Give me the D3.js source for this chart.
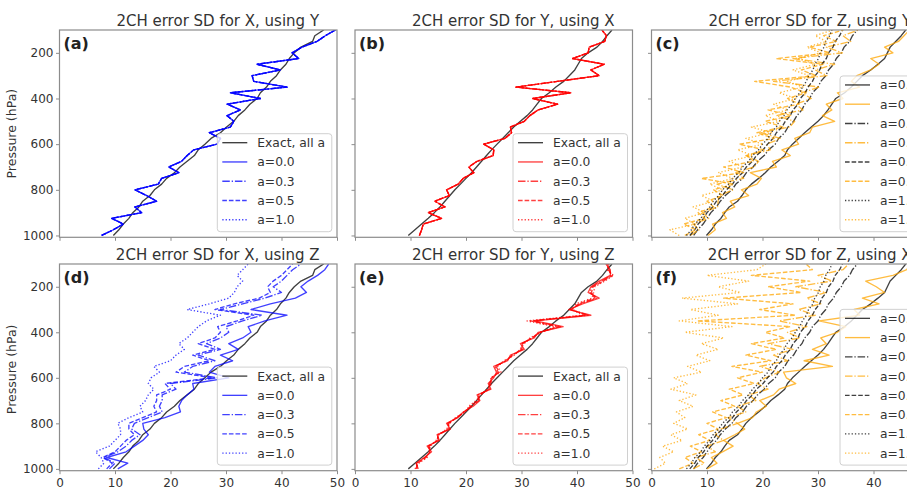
<!DOCTYPE html>
<html><head><meta charset="utf-8">
<script src="https://cdn.jsdelivr.net/npm/d3@7"></script>
<style>
body{margin:0;background:#fff;}
svg{display:block;font-family:"DejaVu Sans",sans-serif;}
</style></head><body>
<svg id="chart" width="907" height="493"></svg>
<script>
// ---------------- data ----------------
const pressure = [1000,975,950,925,900,875,850,825,800,775,750,725,700,675,650,625,600,575,550,525,500,475,450,425,400,375,350,325,300,275,250,225,200,175,150,125,100];
const yTickValues = [200,400,600,800,1000];
const xTickValues = [0,10,20,30,40,50];

// exact error SD (black)
const exactX = [9.7,10.7,11.5,12.5,13.2,14.3,15.0,16.3,17.1,18.4,19.3,20.7,21.7,23.0,24.3,25.0,26.2,27.3,29.0,30.1,31.4,32.2,33.4,34.3,35.6,36.2,37.3,38.0,39.1,39.8,40.8,41.4,42.3,43.5,45.6,46.0,47.6];
const exactY = [9.6,10.8,12.0,13.2,14.3,15.3,16.2,17.1,18.0,19.0,20.0,21.0,21.9,22.8,23.7,24.6,25.6,26.6,27.6,28.6,29.8,31.0,32.0,32.8,33.6,35.0,36.2,37.6,38.6,39.6,40.2,40.8,42.0,43.6,44.6,45.4,46.3];
const exactZ_a00 = [9.9,10.8,11.5,12.5,13.2,14.0,15.5,16.3,17.0,18.0,19.3,20.5,21.5,22.8,24.0,24.5,25.4,26.5,27.6,28.8,30.0,31.0,31.8,32.5,33.2,34.8,36.0,37.0,38.0,39.5,40.8,42.0,42.5,43.0,44.0,45.0,45.8];
const exactZ_a03 = [7.6,8.3,9.3,10.0,10.7,11.7,12.4,13.3,14.5,15.2,16.4,17.1,18.3,19.1,20.3,21.1,22.3,22.9,24.0,24.6,25.6,26.2,27.1,27.6,28.5,29.0,30.0,30.5,31.4,31.9,32.8,33.3,34.2,34.7,35.7,36.2,37.1];
const exactZ_a05 = [6.9,7.8,8.4,9.4,10.0,11.0,11.7,12.8,13.5,14.6,15.3,16.4,17.1,18.2,18.9,20.1,20.9,21.9,22.5,23.5,24.1,25.0,25.5,26.4,26.8,27.7,28.2,29.0,29.5,30.3,30.7,31.5,31.9,32.7,33.1,33.9,34.4];
const exactZ_a10 = [6.3,7.2,7.8,8.9,9.5,10.5,11.1,12.1,12.8,13.9,14.6,15.7,16.4,17.5,18.2,19.3,20.0,21.0,21.5,22.5,23.0,23.9,24.4,25.3,25.9,26.7,27.2,27.9,28.3,29.1,29.4,30.1,30.4,31.1,31.4,32.1,32.5];

// (a) X using Y (all a overlap)
const xUsingY = [7.6,9.7,11.5,9.4,14.8,13.6,17.5,15.7,13.6,17.8,18.4,21.5,19.7,22.0,23.0,24.2,28.4,29.0,27.0,30.8,31.4,30.2,32.6,30.2,36.2,30.8,41.0,35.0,34.7,39.8,35.6,43.1,41.9,43.7,46.4,47.9,49.7];
// (b) Y using X (all a overlap)
const yUsingX = [11.6,12.0,12.3,15.6,13.2,16.2,14.4,17.0,16.5,18.6,19.5,21.4,20.5,22.0,24.9,25.0,23.2,27.0,28.2,28.0,30.5,31.5,33.0,36.5,32.0,38.9,29.0,36.5,44.0,42.5,44.9,39.2,42.0,42.2,45.0,45.3,44.5];
// (d) X using Z
const xUsingZ_a00 = [10.5,12.3,8.5,12.0,13.5,15.0,16.0,15.2,15.0,19.0,21.8,21.5,22.0,23.0,24.2,24.0,30.5,27.0,28.0,31.2,29.0,32.2,30.5,33.0,34.5,34.0,37.0,41.0,34.5,38.0,42.5,44.5,43.5,44.8,46.5,47.8,48.5];
const xUsingZ_a03 = [9.0,10.0,8.0,10.5,12.0,13.0,14.5,13.0,13.5,16.0,18.5,18.0,18.5,18.5,21.0,20.0,28.5,22.5,24.0,28.0,25.0,29.0,26.5,29.0,30.5,30.0,33.0,36.5,29.0,33.0,37.0,40.0,38.5,40.0,41.0,42.0,43.5];
const xUsingZ_a05 = [8.5,9.5,7.8,10.0,11.0,12.0,13.5,12.5,12.5,15.0,17.5,17.0,17.5,17.5,20.0,19.0,27.5,21.0,22.5,27.0,24.0,28.0,25.0,28.0,29.0,28.5,32.0,35.0,28.0,31.5,36.0,38.0,37.5,38.5,40.0,41.0,42.0];
const xUsingZ_a10 = [7.0,8.0,7.5,6.5,9.0,10.0,11.0,11.0,10.5,12.5,15.0,14.5,15.5,16.0,17.0,16.0,16.5,18.0,17.0,20.0,21.0,22.5,21.5,23.0,24.0,25.0,26.5,29.0,23.0,27.0,30.5,31.5,32.0,33.0,32.0,33.0,34.0];
// (e) Y using Z
const yUsingZ_a00 = [11.4,11.0,12.5,13.8,13.0,15.2,14.8,17.2,16.5,18.5,19.5,21.3,22.5,22.0,24.5,24.0,25.0,25.5,25.0,27.5,28.0,30.5,29.8,32.3,33.0,37.5,32.5,42.5,38.5,41.0,44.0,42.0,42.5,44.0,46.0,46.0,45.2];
const yUsingZ_a03 = [11.2,11.1,12.6,13.6,13.2,15.0,14.9,17.0,16.7,18.4,19.6,21.0,22.3,22.2,24.3,24.2,24.8,25.8,25.2,27.3,28.3,30.2,30.0,32.0,33.2,37.0,32.0,42.0,38.8,40.6,43.6,42.3,42.7,44.4,46.2,45.8,45.4];
const yUsingZ_a05 = [11.0,11.3,12.8,13.5,13.4,14.8,15.0,16.8,16.9,18.3,19.7,20.8,22.1,22.4,24.1,24.4,24.6,26.0,25.4,27.1,28.5,30.0,30.2,31.8,33.4,36.6,31.6,41.6,39.0,40.3,43.2,42.6,42.9,44.7,46.4,45.6,45.6];
const yUsingZ_a10 = [10.8,11.5,13.0,13.3,13.6,14.6,15.2,16.5,17.1,18.1,19.9,20.5,21.8,22.7,23.8,24.7,24.4,26.3,25.7,26.8,28.8,29.7,30.5,31.5,33.6,36.0,31.0,41.0,39.3,39.8,42.7,43.0,43.2,45.0,46.6,45.4,45.8];
// (c) Z using Y
const zUsingY_a00 = [10.2,11.5,11.0,13.5,12.8,15.0,14.2,17.5,16.2,19.0,19.8,17.8,22.5,21.8,25.0,23.5,26.5,25.8,28.5,29.0,33.0,30.8,32.5,31.5,34.5,33.5,37.5,36.0,37.0,39.5,41.0,39.5,43.5,42.0,44.5,45.5,46.5];
const zUsingY_a03 = [7.0,8.6,7.5,10.3,9.2,11.9,12.0,12.2,14.7,11.8,16.6,15.2,18.5,19.3,17.0,21.4,20.8,23.2,19.8,24.9,25.8,22.5,27.3,26.0,28.8,27.0,30.3,22.0,31.6,29.5,33.0,25.5,34.4,31.5,35.9,34.5,37.3];
const zUsingY_a05 = [6.0,8.0,5.8,9.6,8.4,11.2,10.0,12.9,11.2,14.8,9.0,16.6,13.0,18.4,17.2,20.3,15.8,22.1,19.0,23.7,20.5,25.2,21.0,26.6,24.5,27.9,25.0,18.6,29.7,27.0,30.9,22.5,32.1,28.5,33.3,31.0,34.6];
const zUsingY_a10 = [5.0,3.3,7.9,6.0,9.6,7.5,11.2,9.0,12.9,10.5,14.7,12.0,16.5,14.0,18.3,15.5,20.1,17.0,21.6,18.0,23.1,20.5,24.5,22.0,26.0,23.0,27.3,24.5,28.4,25.5,29.5,26.5,30.5,28.0,31.5,29.5,32.6];
// (f) Z using X
const zUsingX_a00 = [10.0,11.8,10.8,12.8,14.7,13.0,15.0,16.8,15.5,18.2,18.9,20.7,19.5,22.0,23.0,26.0,24.3,23.8,32.6,27.5,32.0,29.0,31.5,30.5,33.5,35.0,30.2,37.5,36.5,41.0,38.0,42.0,40.5,38.6,43.5,46.0,46.5];
const zUsingX_a03 = [7.5,9.5,8.0,11.5,10.0,13.0,11.5,12.5,15.5,13.8,17.0,15.5,18.8,17.5,21.0,19.0,20.5,23.0,19.5,24.5,22.0,25.5,21.0,26.8,24.5,28.0,23.0,29.5,26.5,30.5,28.0,31.5,26.0,32.5,30.0,34.5,35.5];
const zUsingX_a05 = [5.0,7.5,6.0,9.0,7.0,10.5,8.5,12.0,10.0,13.5,11.0,15.0,12.5,16.5,14.0,18.5,15.5,20.0,14.5,21.5,17.0,22.5,18.0,24.0,20.5,25.0,8.2,26.0,19.5,25.5,13.0,27.0,21.0,28.5,18.0,29.0,27.8];
const zUsingX_a10 = [0.5,2.5,1.5,4.0,2.0,5.5,3.5,6.5,4.0,6.0,4.5,7.5,5.0,8.0,3.5,6.5,4.0,9.0,6.5,10.5,8.0,12.0,9.0,13.0,6.0,14.5,5.0,12.0,7.0,15.5,5.5,16.0,12.0,17.5,10.0,19.0,20.6];

const simpleLabels = ['Exact, all a','a=0.0','a=0.3','a=0.5','a=1.0'];
const pairLabels = ['a=0.0, exact','a=0.0, 2CH','a=0.3, exact','a=0.3, 2CH','a=0.5, exact','a=0.5, 2CH','a=1.0, exact','a=1.0, 2CH'];

// ---------------- styling / layout ----------------
const BLUE='#0000ff', RED='#ff0000', ORANGE='#ffa500', BLACK='#000000';
const DASH={solid:null, dashdot:'7.5,1.9,1.3,1.9', dashed:'4.6,2', dotted:'1.3,2'};
const colLeft=[59.5,355,651.5], plotW=277.5;
const rowTop=[30,264], plotH=[207.3,206.7];

function simpleSeries(exact, curves, color){
  const styles=['solid','dashdot','dashed','dotted'];
  const s=[{label:simpleLabels[0], values:exact, color:BLACK, dash:'solid'}];
  curves.forEach((c,i)=>s.push({label:simpleLabels[i+1], values:c, color:color, dash:styles[i]}));
  return s;
}
function pairSeries(exacts, curves){
  const styles=['solid','dashdot','dashed','dotted'];
  const s=[];
  exacts.forEach((e,i)=>{
    s.push({label:pairLabels[2*i], values:e, color:BLACK, dash:styles[i]});
    s.push({label:pairLabels[2*i+1], values:curves[i], color:ORANGE, dash:styles[i]});
  });
  return s;
}
const exactZ=[exactZ_a00,exactZ_a03,exactZ_a05,exactZ_a10];

const panels=[
 {key:'a',tag:'(a)',title:'2CH error SD for X, using Y',col:0,row:0,
  series:simpleSeries(exactX,[xUsingY,xUsingY,xUsingY,xUsingY],BLUE), legendLeft:217.3},
 {key:'b',tag:'(b)',title:'2CH error SD for Y, using X',col:1,row:0,
  series:simpleSeries(exactY,[yUsingX,yUsingX,yUsingX,yUsingX],RED), legendLeft:513},
 {key:'c',tag:'(c)',title:'2CH error SD for Z, using Y',col:2,row:0,
  series:pairSeries(exactZ,[zUsingY_a00,zUsingY_a03,zUsingY_a05,zUsingY_a10]), legendLeft:840},
 {key:'d',tag:'(d)',title:'2CH error SD for X, using Z',col:0,row:1,
  series:simpleSeries(exactX,[xUsingZ_a00,xUsingZ_a03,xUsingZ_a05,xUsingZ_a10],BLUE), legendLeft:217.3},
 {key:'e',tag:'(e)',title:'2CH error SD for Y, using Z',col:1,row:1,
  series:simpleSeries(exactY,[yUsingZ_a00,yUsingZ_a03,yUsingZ_a05,yUsingZ_a10],RED), legendLeft:513},
 {key:'f',tag:'(f)',title:'2CH error SD for Z, using X',col:2,row:1,
  series:pairSeries(exactZ,[zUsingX_a00,zUsingX_a03,zUsingX_a05,zUsingX_a10]), legendLeft:840}
];

const svg=d3.select('#chart');
svg.append('rect').attr('width',907).attr('height',493).attr('fill','#fff');
const defs=svg.append('defs');

panels.forEach(pn=>{
  const left=colLeft[pn.col], top=rowTop[pn.row], h=plotH[pn.row];
  const x=d3.scaleLinear().domain([0,50]).range([left,left+plotW]);
  const y=d3.scaleLinear().domain([100,1008]).range([top,top+h]);
  const cid='clip-'+pn.key;
  defs.append('clipPath').attr('id',cid).append('rect')
    .attr('x',left).attr('y',top).attr('width',plotW).attr('height',h);

  // axes
  const ya=svg.append('g').attr('transform',`translate(${left},0)`)
    .call(d3.axisLeft(y).tickValues(yTickValues).tickSize(3.5).tickPadding(2.5)
      .tickFormat(pn.col===0?d3.format('d'):()=>''));
  const xa=svg.append('g').attr('transform',`translate(0,${top+h})`)
    .call(d3.axisBottom(x).tickValues(xTickValues).tickSize(3.5).tickPadding(4)
      .tickFormat(pn.row===1?d3.format('d'):()=>''));
  [ya,xa].forEach(a=>{
    a.select('.domain').remove();
    a.selectAll('.tick line').attr('stroke','#8c8c8c').attr('stroke-width',1);
    a.selectAll('.tick text').attr('fill','#333').attr('font-size',12)
      .attr('font-family','"DejaVu Sans",sans-serif');
  });

  // lines
  const lg=svg.append('g').attr('clip-path',`url(#${cid})`);
  const line=d3.line().x(d=>x(d.v)).y(d=>y(d.p));
  pn.series.forEach(s=>{
    const pts=s.values.map((v,i)=>({v:v,p:pressure[i]}));
    lg.append('path').attr('d',line(pts)).attr('fill','none')
      .attr('stroke',s.color).attr('stroke-opacity',0.75)
      .attr('stroke-width',1.35).attr('stroke-linejoin','round')
      .attr('stroke-dasharray',DASH[s.dash]);
  });

  // frame
  svg.append('rect').attr('x',left).attr('y',top).attr('width',plotW).attr('height',h)
    .attr('fill','none').attr('stroke','#8c8c8c').attr('stroke-width',1.2);

  // title and tag
  svg.append('text').attr('x',left+plotW/2+19.5).attr('y',top-4.2)
    .attr('text-anchor','middle').attr('font-size',15).attr('fill','#333').text(pn.title);
  svg.append('text').attr('x',left+4).attr('y',top+18.5)
    .attr('font-size',16).attr('font-weight','bold').attr('fill','#222').text(pn.tag);

  // legend
  const n=pn.series.length, step=19.25;
  const lh=9+(n-1)*step+12;
  const lb=top+h-5.6, lt=lb-lh, ll=pn.legendLeft, lw=114.5;
  const leg=svg.append('g');
  leg.append('rect').attr('x',ll).attr('y',lt).attr('width',pn.key==='c'||pn.key==='f'?160:lw)
    .attr('height',lh).attr('rx',3).attr('fill','#fff').attr('fill-opacity',0.8)
    .attr('stroke','#d0d0d0').attr('stroke-width',1);
  pn.series.forEach((s,i)=>{
    const cy=lt+9+i*step;
    leg.append('line').attr('x1',ll+5).attr('x2',ll+30).attr('y1',cy).attr('y2',cy)
      .attr('stroke',s.color).attr('stroke-opacity',0.75).attr('stroke-width',1.35)
      .attr('stroke-dasharray',DASH[s.dash]);
    leg.append('text').attr('x',ll+40).attr('y',cy).attr('dy','0.36em')
      .attr('font-size',12.3).attr('fill','#333').text(s.label);
  });
});

// y-axis labels
[0,1].forEach(r=>{
  const cy=rowTop[r]+plotH[r]/2+(r===1?2:0);
  svg.append('text').attr('transform',`translate(15.5,${cy}) rotate(-90)`)
    .attr('text-anchor','middle').attr('font-size',12.5).attr('fill','#333').text('Pressure (hPa)');
});
</script>
</body></html>
